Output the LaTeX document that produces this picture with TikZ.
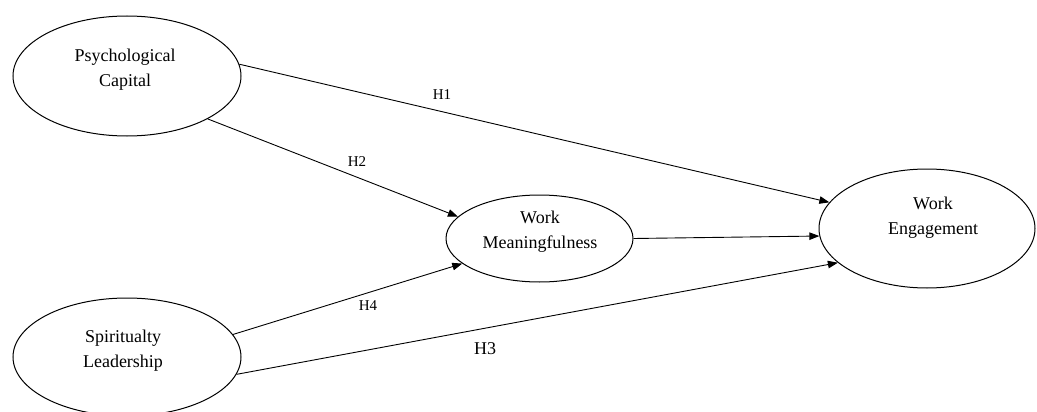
\documentclass[tikz,border=0pt]{standalone}
\usepackage{fontspec}
\setmainfont{Liberation Serif}
\usetikzlibrary{shapes.geometric,arrows.meta}
\tikzset{
  ell/.style={draw, ellipse, line width=1pt, inner sep=0pt, fill=white},
  lbl/.style={align=center, inner sep=0pt, font=\fontsize{18}{25}\selectfont},
  hyp/.style={inner sep=0pt, font=\fontsize{15}{18}\selectfont},
  hypbig/.style={inner sep=0pt, font=\fontsize{18}{20}\selectfont},
  conn/.style={line width=0.9pt, -{Triangle[length=10pt,width=7.5pt]}}
}
\begin{document}
\begin{tikzpicture}[x=1pt,y=-1pt]
\useasboundingbox (0,0) rectangle (1037,412);
\node[ell, minimum width=228pt, minimum height=120pt] (pc) at (127,76) {};
\node[ell, minimum width=228pt, minimum height=118pt] (sl) at (127,357) {};
\node[ell, minimum width=187pt, minimum height=87pt] (wm) at (539.5,238.5) {};
\node[ell, minimum width=216pt, minimum height=119pt] (we) at (927,228.5) {};

\node[lbl] (pct) at (125,70) {Psychological\\Capital};
\node[lbl] (slt) at (123,351) {Spiritualty\\Leadership};
\node[lbl] (wmt) at (540,231.5) {Work\\Meaningfulness};
\node[lbl] (wet) at (933,218) {Work\\Engagement};

\draw[conn] (pc.6.4) -- (we.165.2);
\draw[conn] (pc.-28.5) -- (wm.165.7);
\draw[conn] (wm.east) -- (we.-176);
\draw[conn] (sl.12.2) -- (wm.-162);
\draw[conn] (sl.-9.9) -- (we.-159);

\node[hyp] (h1) at (442,95) {H1};
\node[hyp] (h2) at (357,162) {H2};
\node[hyp] (h4) at (368,306) {H4};
\node[hypbig] (h3) at (485,349) {H3};
\end{tikzpicture}
\end{document}
